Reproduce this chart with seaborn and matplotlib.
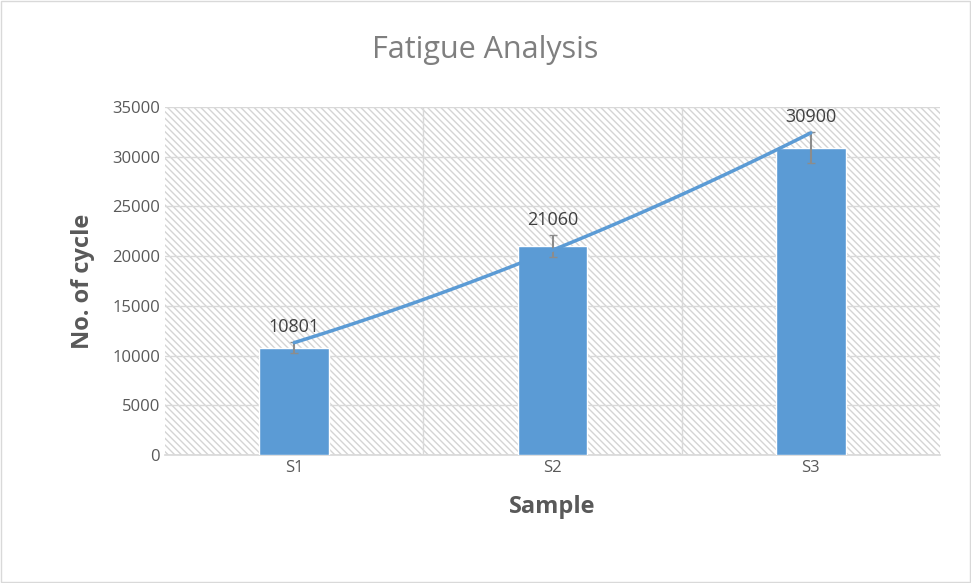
import matplotlib
matplotlib.use("Agg")
import matplotlib.pyplot as plt
import seaborn as sns
import numpy as np
import pandas as pd
from matplotlib.patches import Rectangle

samples = ["S1", "S2", "S3"]
cycles = [10801, 21060, 30900]
errors = [550, 1100, 1550]
trend = [11300, 20600, 32400]

sns.set_theme(style="white")
plt.rcParams['font.family'] = ['Open Sans', 'DejaVu Sans']

fig = plt.figure(figsize=(9.71, 5.83), dpi=100)
ax = fig.add_axes([165/971, 1-455/583, 775/971, 348/583])

df = pd.DataFrame({"Sample": samples, "Cycles": cycles})
ax.add_patch(Rectangle((0, 0), 1, 1, transform=ax.transAxes, facecolor="white",
                       edgecolor="#d4d4d4", hatch="\\\\\\\\\\", lw=0, zorder=0))
sns.barplot(data=df, x="Sample", y="Cycles", color="#5b9bd5", width=0.27,
            saturation=1, ax=ax, zorder=3)
x = np.arange(len(samples))
ax.errorbar(x, cycles, yerr=errors, fmt="none", ecolor="#8c8c8c", capsize=3,
            elinewidth=1.5, zorder=4)
coef = np.polyfit(x, trend, 2)
xs = np.linspace(0, 2, 100)
ax.plot(xs, np.polyval(coef, xs), color="#5b9bd5", lw=2.5, zorder=5)
for xi, v, e in zip(x, cycles, errors):
    ax.text(xi, v + e + 600, str(v), ha="center", va="bottom", fontsize=13,
            color="#404040", zorder=6)

ax.set_xlim(-0.5, 2.5)
ax.set_ylim(0, 35000)
ax.set_yticks(range(0, 35001, 5000))
ax.set_xticks([0.5, 1.5], minor=True)
ax.grid(axis="y", color="#d9d9d9", lw=1, zorder=1)
ax.grid(axis="x", which="minor", color="#d9d9d9", lw=1, zorder=1)
ax.grid(axis="x", which="major", visible=False)
for s in ["top", "right", "left"]:
    ax.spines[s].set_visible(False)
ax.spines["bottom"].set_color("#d9d9d9")
ax.tick_params(axis="both", labelsize=12, labelcolor="#595959", length=0)
ax.set_xlabel("Sample", fontsize=17, fontweight="bold", color="#595959", labelpad=14)
ax.set_ylabel("No. of cycle", fontsize=17, fontweight="bold", color="#595959", labelpad=12)
fig.text(0.5, 1-50/583, "Fatigue Analysis", ha="center", va="center",
         fontsize=22, color="#7f7f7f")
fig.patches.append(Rectangle((0.001, 0.001), 0.998, 0.998, transform=fig.transFigure,
                             fill=False, edgecolor="#d9d9d9", lw=1))
fig.savefig("out.png", dpi=100)
